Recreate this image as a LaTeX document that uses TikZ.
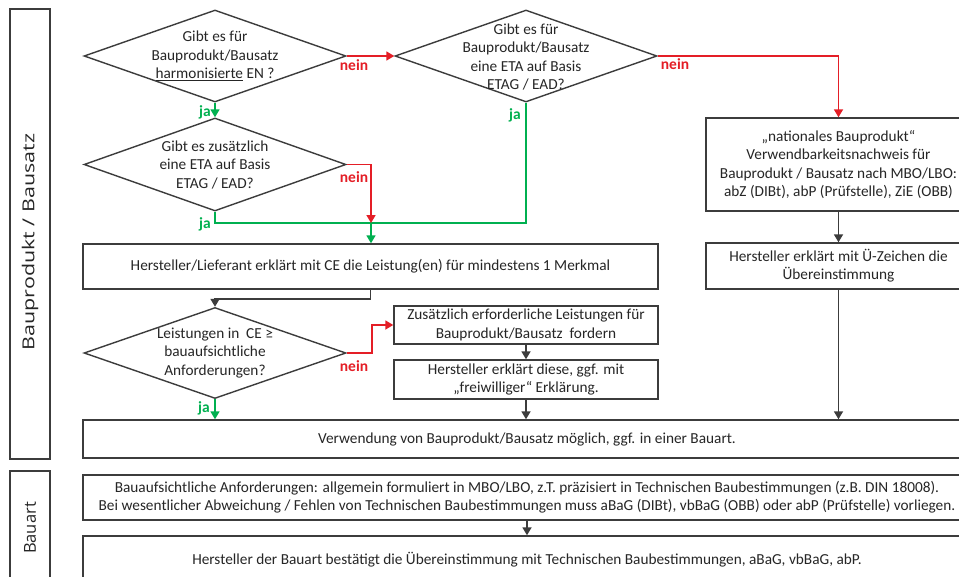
\documentclass[tikz,border=0pt]{standalone}
\usepackage{fontspec}
\usepackage{graphicx}
\setmainfont{Carlito}
\newfontfamily\lblfont{Open Sans}
\usetikzlibrary{arrows.meta,shapes.geometric}
\definecolor{cgreen}{RGB}{0,176,80}
\definecolor{cred}{RGB}{228,30,38}
\definecolor{cline}{RGB}{60,60,60}
\begin{document}
\begin{tikzpicture}[x=1pt,y=-1pt,
  box/.style={draw=cline,line width=1.4pt,rectangle,inner sep=0pt,align=center,font=\fontsize{15.3}{18.3}\selectfont,text=black!85},
  dia/.style={draw=cline,line width=1.4pt,diamond,inner sep=0pt,minimum width=262pt,minimum height=92pt},
  txt/.style={align=center,font=\fontsize{15.3}{18.3}\selectfont,inner sep=0pt,text=black!85},
  yes/.style={draw=cgreen,line width=1.7pt},
  no/.style={draw=cred,line width=1.7pt},
  flow/.style={draw=cline,line width=1.7pt},
  ytip/.style={-{Triangle[length=8pt,width=9pt]}},
  ylab/.style={text=cgreen,font=\bfseries\fontsize{15.5}{17}\selectfont,inner sep=0pt},
  nlab/.style={text=cred,font=\bfseries\fontsize{15.5}{17}\selectfont,inner sep=0pt},
  side/.style={font=\lblfont\fontsize{16.5}{18}\selectfont,inner sep=0pt,text=black!85}
]
\clip (0,0) rectangle (959,576);
\fill[white] (0,0) rectangle (959,576);

% side label boxes
\node[box,minimum width=40pt,minimum height=450pt] (s1) at (30,234) {};
\node[side,rotate=90] (s1t) at (30,242) {\scalebox{1.3}[1]{Bauprodukt / Bausatz}};
\node[box,minimum width=40pt,minimum height=119pt] (s2) at (30,530.5) {};
\node[side,rotate=90] (s2t) at (30,528) {Bauart};

% diamonds
\node[dia] (d1) at (215,56) {};
\node[txt] (d1t) at (215,56) {Gibt es für\\Bauprodukt/Bausatz\\\underline{harmonisierte} EN ?};
\node[dia,minimum height=93pt] (d2) at (215,164.5) {};
\node[txt] (d2t) at (215,165) {Gibt es zusätzlich\\eine ETA auf Basis\\ETAG / EAD?};
\node[dia] (d3) at (526,56) {};
\node[txt] (d3t) at (526,57) {Gibt es für\\Bauprodukt/Bausatz\\eine ETA auf Basis\\ETAG / EAD?};
\node[dia,minimum height=91pt] (d4) at (215,353) {};
\node[txt] (d4t) at (215,353) {Leistungen in~~CE ≥\\bauaufsichtliche\\Anforderungen?};

% boxes
\node[box,minimum width=575pt,minimum height=45pt] (b1) at (370.5,266.5) {Hersteller/Lieferant erklärt mit CE die Leistung(en) für mindestens 1 Merkmal};
\node[box,minimum width=265pt,minimum height=93pt] (bN) at (838.5,164.5) {„nationales Bauprodukt“\\Verwendbarkeitsnachweis für\\Bauprodukt / Bausatz nach MBO/LBO:\\abZ (DIBt), abP (Prüfstelle), ZiE (OBB)};
\node[box,minimum width=265pt,minimum height=46pt] (bU) at (838.5,266) {Hersteller erklärt mit Ü-Zeichen die\\Übereinstimmung};
\node[box,minimum width=264pt,minimum height=38pt] (bZ) at (526,325) {Zusätzlich erforderliche Leistungen für\\Bauprodukt/Bausatz~~fordern};
\node[box,minimum width=264pt,minimum height=39pt] (bH) at (526,379.5) {Hersteller erklärt diese, ggf. mit\\„freiwilliger“ Erklärung.};
\node[box,minimum width=888pt,minimum height=38pt] (bV) at (527,439) {Verwendung von Bauprodukt/Bausatz möglich, ggf. in einer Bauart.};
\node[box,minimum width=888pt,minimum height=45pt] (bB) at (527,497.5) {Bauaufsichtliche Anforderungen: allgemein formuliert in MBO/LBO, z.T. präzisiert in Technischen Baubestimmungen (z.B. DIN 18008).\\Bei wesentlicher Abweichung / Fehlen von Technischen Baubestimmungen muss aBaG (DIBt), vbBaG (OBB) oder abP (Prüfstelle) vorliegen.};
\node[box,minimum width=888pt,minimum height=48pt] (bL) at (527,560) {Hersteller der Bauart bestätigt die Übereinstimmung mit Technischen Baubestimmungen, aBaG, vbBaG, abP.};

% coordinates
\coordinate (c1) at (371,223);

% connectors
\draw[yes,ytip] (d1.south) -- (d2.north);
\draw[no,ytip] (d1.east) -- (d3.west);
\draw[yes] (d2.south) |- (c1) -| (d3.south);
\draw[no,ytip] (d2.east) -| (c1);
\draw[yes,ytip] (c1) -- (c1 |- b1.north);
\draw[no,ytip] (d3.east) -| (bN.north);
\draw[flow,ytip] (bN.south) -- (bU.north);
\draw[flow,ytip] (bU.south) -- (bU.south |- bV.north);
\draw[flow,ytip] (b1.south) -- ++(0,9) -| (d4.north);
\draw[no,ytip] (d4.east) -- ++(25,0) |- (bZ.west);
\draw[flow,ytip] (bZ.south) -- (bH.north);
\draw[flow,ytip] (bH.south) -- (bH.south |- bV.north);
\draw[yes,ytip] (d4.south) -- (d4.south |- bV.north);
\draw[flow,ytip] (bB.south) -- (bL.north);

% labels
\node[ylab] (j1) at (205,112) {ja};
\node[nlab] (n1) at (354,65) {nein};
\node[ylab] (j2) at (205,224) {ja};
\node[nlab] (n2) at (354,177) {nein};
\node[ylab] (j3) at (515,115) {ja};
\node[nlab] (n3) at (675,64) {nein};
\node[nlab] (n4) at (354,366) {nein};
\node[ylab] (j4) at (204,408) {ja};
\end{tikzpicture}
\end{document}
